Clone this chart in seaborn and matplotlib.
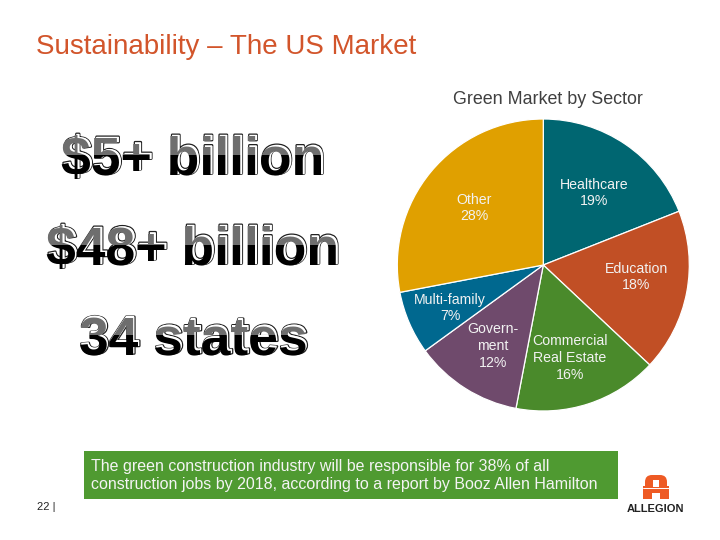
import matplotlib
matplotlib.use('Agg')
import matplotlib.pyplot as plt
import matplotlib.patheffects as pe
from matplotlib.patches import Rectangle, FancyBboxPatch
import seaborn as sns

sectors = ['Healthcare', 'Education', 'Commercial Real Estate', 'Government', 'Multi-family', 'Other']
shares = [19, 18, 16, 12, 7, 28]
sector_colors = ['#006671', '#C14F25', '#4A8A2B', '#6F4A6C', '#00688F', '#E0A000']
sector_labels = ['Healthcare\n19%', 'Education\n18%', 'Commercial\nReal Estate\n16%',
                 'Govern-\nment\n12%', 'Multi-family\n7%', 'Other\n28%']
label_xy = [(594, 193), (636, 277), (570, 358), (493, 346), (450, 308), (474, 208)]
headlines = ['$5+ billion', '$48+ billion', '34 states']
headline_xy = [(193, 161), (193, 251), (193, 341)]

sns.set_theme(style='white')
plt.rcParams['font.family'] = ['Liberation Sans', 'DejaVu Sans']

W, H = 720, 540
fig = plt.figure(figsize=(7.2, 5.4), dpi=100)

# pie, centre (543, 265) radius 146 in pixels
cx, cy, r = 543.3, 265, 146
pie_ax = fig.add_axes([(cx - r) / W, 1 - (cy + r) / H, 2 * r / W, 2 * r / H])
pie_ax.pie(shares, colors=sns.color_palette(sector_colors), startangle=90, counterclock=False,
           radius=1, wedgeprops={'edgecolor': 'white', 'linewidth': 0.9})
pie_ax.set_xlim(-1, 1)
pie_ax.set_ylim(-1, 1)

# overlay in pixel coordinates for all the slide text
ax = fig.add_axes([0, 0, 1, 1], facecolor='none')
ax.set_xlim(0, W)
ax.set_ylim(H, 0)
ax.axis('off')

ax.text(36, 47, 'Sustainability – The US Market', fontsize=20, color='#D2552B', va='center', ha='left')
ax.text(547.5, 99, 'Green Market by Sector', fontsize=12.9, color='#404040', va='center', ha='center')

for lab, (x, y) in zip(sector_labels, label_xy):
    ax.text(x, y, lab, fontsize=10.2, color='#F2F2F2', ha='center', va='center', linespacing=1.25)


def band(y0, y1):
    # clip rectangle between two pixel rows, in figure coordinates
    return Rectangle((0, 1 - y1 / H), 1, (y1 - y0) / H, transform=fig.transFigure)


# headline text, grey on top half and black on bottom half with an offset white copy behind
for txt, (x, y) in zip(headlines, headline_xy):
    kw = dict(fontsize=38.5, fontweight='bold', ha='center', va='center')
    ax.text(x + 1.5, y - 1.5, txt, color='white', path_effects=[pe.withStroke(linewidth=1.8, foreground='#222222')], **kw)
    ax.text(x + 1.5, y - 1.5, txt, color='white', **kw)
    top = ax.text(x, y, txt, color='#6E6E6E', clip_on=True, **kw)
    top.set_clip_path(band(y - 60, y - 6))
    bottom = ax.text(x, y, txt, color='black', clip_on=True, **kw)
    bottom.set_clip_path(band(y - 6, y + 50))

# green call-out
ax.add_patch(Rectangle((84, 451), 534, 48, facecolor='#4F9A31', edgecolor='none'))
ax.text(91, 466, 'The green construction industry will be responsible for 38% of all',
        fontsize=11.55, color='#F4F4F4', va='center', ha='left')
ax.text(91, 485, 'construction jobs by 2018, according to a report by Booz Allen Hamilton',
        fontsize=11.55, color='#F4F4F4', va='center', ha='left')

ax.text(37, 507, '22 |', fontsize=8, color='#222222', va='center', ha='left')

# logo
ax.add_patch(FancyBboxPatch((645, 475), 22, 23, boxstyle='round,pad=0,rounding_size=7',
                            facecolor='#EE5A24', edgecolor='none'))
ax.add_patch(Rectangle((643, 486), 26, 13, facecolor='#EE5A24', edgecolor='none'))
ax.add_patch(Rectangle((653, 480), 6, 7, facecolor='white', edgecolor='none'))
ax.add_patch(Rectangle((652, 493), 8, 6, facecolor='white', edgecolor='none'))
ax.plot([643, 669], [487.5, 487.5], color='white', lw=0.7)
ax.text(655.5, 509, 'ALLEGION', fontsize=8, fontweight='bold', color='#222222', ha='center', va='center')

fig.savefig('out.png', dpi=100)
